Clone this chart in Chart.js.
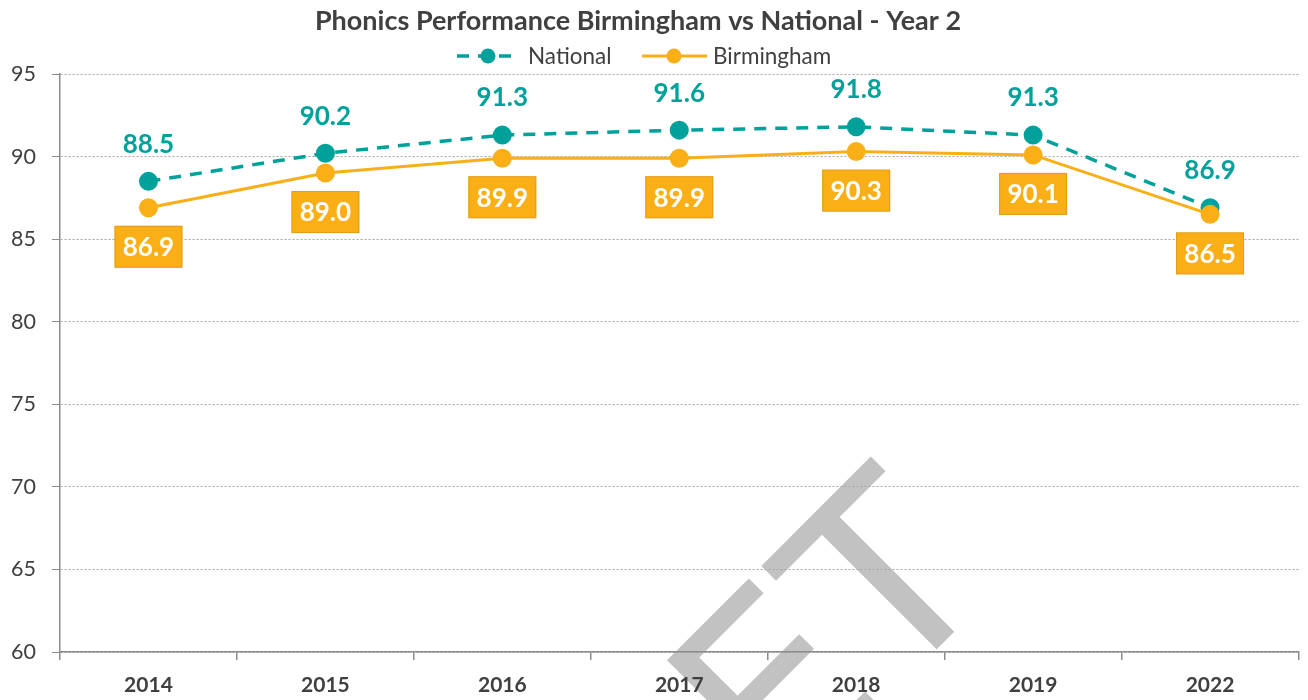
<!DOCTYPE html>
<html>
<head>
<meta charset="utf-8">
<script src="https://cdn.jsdelivr.net/npm/chart.js@4"></script>
<style>
  html, body { margin: 0; padding: 0; background: #fff; }
  #wrap { width: 1308px; height: 700px; position: relative; }
</style>
</head>
<body>
<div id="wrap"><canvas id="chart" width="1308" height="700"></canvas></div>
<script>
/* ── Data ───────────────────────────────────────────────────── */
var years = ['2014', '2015', '2016', '2017', '2018', '2019', '2022'];
var nationalValues = [88.5, 90.2, 91.3, 91.6, 91.8, 91.3, 86.9];
var birminghamValues = [86.9, 89.0, 89.9, 89.9, 90.3, 90.1, 86.5];
var yMin = 60, yMax = 95, yStep = 5;

var TITLE = 'Phonics Performance Birmingham vs National - Year 2';
var TEAL = '#00A19A';
var ORANGE = '#FBAF17';
var TEXT = '#404040';
var AXIS = '#8C8C8C';
var FONT = "Lato, 'Open Sans', sans-serif";

/* ── Title, legend, value labels, watermark ─────────────────── */
var decorPlugin = {
  id: 'decor',
  beforeDraw: function(chart) {
    // watermark sits underneath the chart
    var ctx = chart.ctx;
    ctx.save();
    ctx.translate(779, 807);
    ctx.rotate(-Math.PI / 4);
    ctx.fillStyle = '#C2C2C2';
    ctx.textAlign = 'left';
    ctx.textBaseline = 'alphabetic';
    ctx.font = "251px 'DejaVu Sans'";
    ctx.fillText('ET', 0, 0);
    ctx.restore();
  },
  afterDatasetsDraw: function(chart) {
    var ctx = chart.ctx;
    ctx.save();
    ctx.textAlign = 'center';
    ctx.textBaseline = 'middle';
    ctx.font = 'bold 26px ' + FONT;

    // National labels above the points
    var natMeta = chart.getDatasetMeta(1);
    ctx.fillStyle = TEAL;
    natMeta.data.forEach(function(pt, i) {
      ctx.fillText(nationalValues[i].toFixed(1), pt.x, pt.y - 37);
    });

    // Birmingham labels in orange boxes below the points
    var bhamMeta = chart.getDatasetMeta(0);
    bhamMeta.data.forEach(function(pt, i) {
      var w = 68, h = 42, top = pt.y + 18;
      ctx.fillStyle = ORANGE;
      ctx.fillRect(pt.x - w / 2, top, w, h);
      ctx.strokeStyle = 'rgba(200,140,20,0.5)';
      ctx.lineWidth = 1;
      ctx.strokeRect(pt.x - w / 2 + 0.5, top + 0.5, w - 1, h - 1);
      ctx.fillStyle = '#ffffff';
      ctx.fillText(birminghamValues[i].toFixed(1), pt.x, top + h / 2 + 1);
    });
    ctx.restore();
  },
  afterDraw: function(chart) {
    var ctx = chart.ctx;
    ctx.save();
    // title
    ctx.fillStyle = TEXT;
    ctx.textAlign = 'center';
    ctx.textBaseline = 'middle';
    ctx.font = 'bold 27px ' + FONT;
    ctx.fillText(TITLE, 638, 21);

    // legend
    ctx.textAlign = 'left';
    ctx.font = '22.5px ' + FONT;
    ctx.lineWidth = 3.5;
    ctx.strokeStyle = TEAL;
    ctx.setLineDash([12, 9]);
    ctx.beginPath(); ctx.moveTo(457, 56); ctx.lineTo(518, 56); ctx.stroke();
    ctx.setLineDash([]);
    ctx.fillStyle = TEAL;
    ctx.beginPath(); ctx.arc(488, 56, 7.5, 0, Math.PI * 2); ctx.fill();
    ctx.fillStyle = TEXT;
    ctx.fillText('National', 528, 57);

    ctx.lineWidth = 3;
    ctx.strokeStyle = ORANGE;
    ctx.beginPath(); ctx.moveTo(642, 56); ctx.lineTo(707, 56); ctx.stroke();
    ctx.fillStyle = ORANGE;
    ctx.beginPath(); ctx.arc(674, 56, 7.5, 0, Math.PI * 2); ctx.fill();
    ctx.fillStyle = TEXT;
    ctx.fillText('Birmingham', 713, 57);
    ctx.restore();
  }
};

/* ── Chart ──────────────────────────────────────────────────── */
new Chart(document.getElementById('chart'), {
  type: 'line',
  data: {
    labels: years,
    datasets: [{
      label: 'Birmingham',
      data: birminghamValues,
      borderColor: ORANGE,
      backgroundColor: ORANGE,
      borderWidth: 3,
      pointRadius: 9.5,
      pointBorderWidth: 0,
      pointBackgroundColor: ORANGE,
      tension: 0,
      order: 0,
    }, {
      label: 'National',
      data: nationalValues,
      borderColor: TEAL,
      backgroundColor: TEAL,
      borderWidth: 3.5,
      borderDash: [12, 9],
      pointRadius: 9.5,
      pointBorderWidth: 0,
      pointBackgroundColor: TEAL,
      tension: 0,
      order: 1,
    }]
  },
  options: {
    responsive: false,
    animation: false,
    layout: { padding: { top: 74, right: 4, bottom: 0, left: 0 } },
    plugins: {
      legend: { display: false },
      title: { display: false },
      tooltip: { enabled: false },
    },
    scales: {
      x: {
        offset: true,
        grid: {
          offset: true,
          drawOnChartArea: false,
          drawTicks: true,
          tickLength: 8,
          color: AXIS,
          lineWidth: 1.5,
        },
        border: { color: AXIS, width: 1.5 },
        ticks: {
          color: TEXT,
          font: { family: FONT, size: 21, weight: 'bold' },
          padding: 13,
        },
        afterFit: function(scale) { scale.height = 48; },
      },
      y: {
        min: yMin,
        max: yMax,
        ticks: {
          stepSize: yStep,
          color: TEXT,
          font: { family: FONT, size: 21.5 },
          padding: 16,
        },
        grid: {
          color: '#A6A6A6',
          lineWidth: 1,
          tickLength: 8,
          tickColor: AXIS,
          tickBorderDash: [],
        },
        border: { color: AXIS, width: 1.5, dash: [2, 2] },
        afterFit: function(scale) { scale.width = 60; },
      },
    },
  },
  plugins: [decorPlugin],
});
</script>
</body>
</html>
